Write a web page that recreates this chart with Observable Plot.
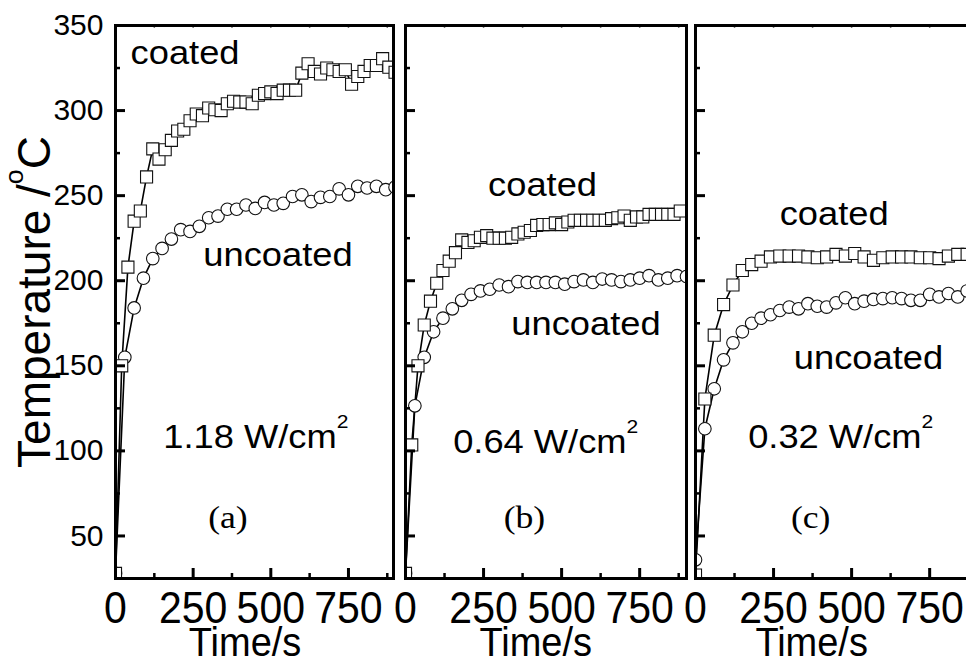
<!DOCTYPE html>
<html><head><meta charset="utf-8">
<script src="https://cdn.jsdelivr.net/npm/d3@7"></script>
<script src="https://cdn.jsdelivr.net/npm/@observablehq/plot@0.6"></script>
<style>
html,body{margin:0;padding:0;background:#fff;overflow:hidden;}
#wrap{position:relative;width:966px;height:663px;overflow:hidden;background:#fff;}
#wrap svg{position:absolute;top:0;overflow:visible;background:transparent;}
</style></head><body><div id="wrap"></div>
<script>
// ---- tick values ----
const yTickLabels = [50,100,150,200,250,300,350];
const yMajor = [50,100,150,200,250,300];
const yMinor = [75,125,175,225,275,325];
const xTickLabels = [0,250,500,750];
const xMajor = [250,500,750];
const xMinor = [125,375,625,875];
const xTop = [125,250,375,500,625,750,875];

// ---- panel (a) 1.18 W/cm2 ----
const timeA20 = [0,20,40,60,80,100,120,140,160,180,200,220,240,260,280,300,320,340,360,380,400,420,440,460,480,500,520,540,560,580,600,620,640,660,680,700,720,740,760,780,800,820,840,860,880,900];
const coatedA = [28,150,208,235,241,261,277.5,271.5,277,282.5,288,289,294,298,297,301.5,300.5,300,304,305.5,305,305,304,309,310,311,310,312,312,312,322,327.5,323,321.5,325,324,323,324,315.5,320,323,326.5,326.5,330.5,325.5,322.5];
const time30 = [0,30,60,90,120,150,180,210,240,270,300,330,360,390,420,450,480,510,540,570,600,630,660,690,720,750,780,810,840,870,900];
const uncoatedA = [28,155,184,201.5,213,219,224.5,230,229,232,237,238,242,242,244.5,242.5,246,244.5,245.5,249.5,250.5,246.5,249,249.5,254,250.5,255.5,254.5,255.5,253.5,255];

// ---- panel (b) 0.64 W/cm2 ----
const timeB20 = [0,20,40,60,80,100,120,140,160,180,200,220,240,260,280,300,320,340,360,380,400,420,440,460,480,500,520,540,560,580,600,620,640,660,680,700,720,740,760,780,800,820,840,860,880];
const coatedB = [28,103.5,150,174,188,198.5,206,211.5,216.5,224,222.5,223.5,225.5,226.5,225,225,225,225.5,227.5,228.5,229.5,232.5,233,233,234,233,234.5,235.5,235.5,235.5,235.5,235.5,235.5,236.5,237,238,235.5,237.5,237.5,239,239,239,239,239,241];
const uncoatedB = [28,126.5,155,170,178,183.5,188.5,192,194,195,197.5,196.5,199.5,199,199,199,199,198,199.5,200.5,199,201,200.5,199.5,200.5,201.5,203,200.5,201.5,203,202.5];

// ---- panel (c) 0.32 W/cm2 ----
const timeC30 = [0,30,60,90,120,150,180,210,240,270,300,330,360,390,420,450,480,510,540,570,600,630,660,690,720,750,780,810,840,870];
const coatedC = [27,130.5,168,186,197.5,206,209.5,211.5,214,214.5,214.5,214.5,214,213.5,214,215.5,214.5,216,214,212,213.5,214,214,214,213.5,213.5,213,214.5,215.5,215.5];
const uncoatedC = [36,113,136.5,153.5,163.5,170,175,178,180,182.5,184.5,183.5,186.5,185,184.5,187,190,186.5,188,189,189.5,190,189.5,188.5,188.5,192,190.5,192.5,190.5,194];

const SANS = "Liberation Sans, Arial, Helvetica, sans-serif";
const SERIF = "Liberation Serif, Times New Roman, serif";
const H = 663, MT = 25, MB = 85;

function rows(times, temps){ return times.map((t,i)=>({t, T: temps[i]})); }

function panel(cfg){
  const plotW = cfg.width - cfg.mL - cfg.mR, plotH = H - MT - MB;
  const C = rows(cfg.tc, cfg.coated), U = rows(cfg.tu, cfg.uncoated);
  const marks = [
    Plot.line(U, {x:"t", y:"T", stroke:"black", strokeWidth:1.6, clip:true}),
    Plot.line(C, {x:"t", y:"T", stroke:"black", strokeWidth:1.6, clip:true}),
    Plot.dot(U, {x:"t", y:"T", symbol:"circle", r:6.3, fill:"white", stroke:"#111", strokeWidth:1.1, clip:true}),
    Plot.dot(C, {x:"t", y:"T", symbol:"square", r:6.8, fill:"white", stroke:"#111", strokeWidth:1.1, clip:true}),
    Plot.tickY(yMajor, {y:d=>d, insetRight: plotW-10, stroke:"black", strokeWidth:3}),
    Plot.tickY(yMinor, {y:d=>d, insetRight: plotW-5, stroke:"black", strokeWidth:2.5}),
    Plot.tickX(xMajor, {x:d=>d, insetTop: plotH-10, stroke:"black", strokeWidth:3}),
    Plot.tickX(xMinor, {x:d=>d, insetTop: plotH-5, stroke:"black", strokeWidth:2.5}),
    Plot.tickX(xTop, {x:d=>d, insetBottom: plotH-3, stroke:"#777", strokeWidth:1.5}),
    Plot.frame({stroke:"black", strokeWidth:3}),
    Plot.text(xTickLabels, {x:d=>d, text:d=>String(d), frameAnchor:"bottom", dy:44, lineAnchor:"bottom", fontSize:41, fill:"black"}),
    Plot.text(["Time/s"], {x:()=>cfg.timeT, text:d=>d, frameAnchor:"bottom", dy:77, lineAnchor:"bottom", fontSize:38, fill:"black"}),
    Plot.text(cfg.annots, {x:"t", y:"T", text:"text", lineAnchor:"bottom", fontSize:33, fill:"black"}),
    Plot.text([cfg.letter], {x:"t", y:"T", text:"text", lineAnchor:"bottom", fontSize:31, fontFamily:SERIF, fill:"black"})
  ];
  if (cfg.yLabels){
    marks.push(Plot.text(yTickLabels, {y:d=>d, text:d=>String(d), frameAnchor:"left", dx:-12, textAnchor:"end", fontSize:30, fill:"black"}));
    marks.push(Plot.text(["Temperature /°C"], {frameAnchor:"left", text:d=>d, rotate:-90, textAnchor:"middle", dx:-80, dy:0, fontSize:46, fill:"black"}));
  }
  const svg = Plot.plot({
    width: cfg.width, height: H,
    marginLeft: cfg.mL, marginRight: cfg.mR, marginTop: MT, marginBottom: MB,
    x: {domain: cfg.domain, axis: null},
    y: {domain: [25, 350], axis: null},
    style: {fontFamily: SANS, color: "black", background: "transparent", overflow: "visible"},
    marks
  });
  svg.style.left = cfg.left + "px";
  // superscripts
  d3.select(svg).selectAll("text").each(function(){
    const s = this.textContent;
    const m = s.match(/^(.*)([²°])(.*)$/);
    if (!m) return;
    const g = this.closest("[font-size]");
    const fs = g ? parseFloat(g.getAttribute("font-size")) : 33;
    this.textContent = "";
    const sel = d3.select(this);
    sel.append("tspan").text(m[1]);
    const sup = m[2] === "²" ? "2" : "o";
    sel.append("tspan").attr("font-size", fs*0.58).attr("dy", -fs*0.6).text(sup);
    if (m[3]) sel.append("tspan").attr("font-size", fs).attr("dy", fs*0.6).text(m[3]);
  });
  // non-uniform text stretch to match the reference glyph proportions
  const stretchBy = {"41":[1,1.1], "38":[1,1.06], "33":[1.1,1], "31":[1.15,1]};
  d3.select(svg).selectAll("text").each(function(){
    const g = this.closest("[font-size]");
    if (!g) return;
    const k = stretchBy[g.getAttribute("font-size")];
    if (!k) return;
    const tr = this.getAttribute("transform") || "";
    this.setAttribute("transform", tr + ` scale(${k[0]},${k[1]})`);
  });
  document.getElementById("wrap").appendChild(svg);
}

panel({left:0, width:400, mL:115, mR:7, domain:[0,895],
  tc: timeA20, coated: coatedA, tu: time30, uncoated: uncoatedA, yLabels:true, timeT:417,
  annots:[{t:224,T:327.6,text:"coated"},{t:523,T:208.5,text:"uncoated"},{t:452,T:101.8,text:"1.18 W/cm²"}],
  letter:{t:362,T:54.7,text:"(a)"}});
panel({left:400, width:290, mL:5, mR:4, domain:[0,900],
  tc: timeB20, coated: coatedB, tu: time30, uncoated: uncoatedB, yLabels:false, timeT:417,
  annots:[{t:439,T:250,text:"coated"},{t:578,T:168,text:"uncoated"},{t:449,T:98.8,text:"0.64 W/cm²"}],
  letter:{t:381,T:54.7,text:"(b)"}});
panel({left:690, width:290, mL:5, mR:4, domain:[0,900],
  tc: timeC30, coated: coatedC, tu: timeC30, uncoated: uncoatedC, yLabels:false, timeT:372,
  annots:[{t:444,T:233,text:"coated"},{t:554,T:148.2,text:"uncoated"},{t:465,T:101.8,text:"0.32 W/cm²"}],
  letter:{t:369,T:54.7,text:"(c)"}});
</script></body></html>
